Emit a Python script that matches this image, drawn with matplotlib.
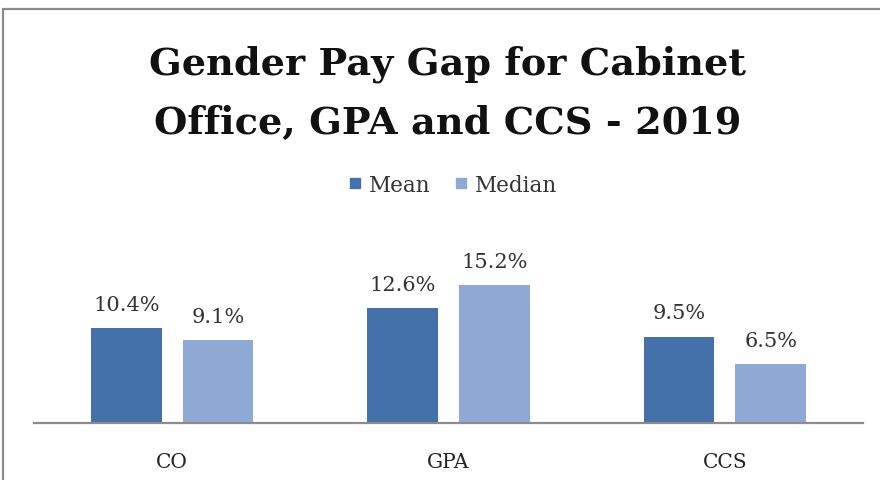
import matplotlib.pyplot as plt
from matplotlib.lines import Line2D
from matplotlib.patches import Rectangle
import numpy as np

# data
categories = ["CO", "GPA", "CCS"]
mean_gap = [10.4, 12.6, 9.5]
median_gap = [9.1, 15.2, 6.5]
series_names = ["Mean", "Median"]

dark_blue = "#4471AA"
light_blue = "#8FA9D5"
serif = ["DejaVu Serif", "Liberation Serif"]

fig = plt.figure(figsize=(8.8, 4.81), dpi=100)

# chart area outline (right and bottom run off the picture)
fig.patches.append(Rectangle((3 / 880, -0.1), 1.2, 1 - 10 / 481 + 0.1, transform=fig.transFigure,
                             fill=False, edgecolor="#8c8c8c", linewidth=1.6))

ax = fig.add_axes([34 / 880, 57 / 481, 829 / 880, 182 / 481])

x = np.arange(len(categories))
w = 0.256
off = 0.166
bars1 = ax.bar(x - off, mean_gap, w, color=dark_blue)
bars2 = ax.bar(x + off, median_gap, w, color=light_blue)

for bars in (bars1, bars2):
    for b in bars:
        h = b.get_height()
        ax.annotate(f"{h:.1f}%", (b.get_x() + b.get_width() / 2, h), xytext=(0, 13),
                    textcoords="offset points", ha="center", va="baseline",
                    fontsize=15, family=serif, color="#333333")

ax.set_xlim(-0.5, 2.5)
ax.set_ylim(0, 20)
ax.set_xticks(x)
ax.set_xticklabels(categories, family=serif, fontsize=14.5, color="#222222")
ax.tick_params(axis="x", length=0, pad=21)
ax.set_yticks([])
for s in ["top", "right", "left"]:
    ax.spines[s].set_visible(False)
ax.spines["bottom"].set_color("#8c8c8c")
ax.spines["bottom"].set_linewidth(1.6)

fig.text(0.509, 1 - 94 / 481, "Gender Pay Gap for Cabinet\nOffice, GPA and CCS - 2019",
         ha="center", va="center", fontsize=27.5, fontweight="bold", family=serif,
         linespacing=1.75, color="#111111")

handles = [Line2D([], [], marker="s", linestyle="none", markersize=7, color=c)
           for c in (dark_blue, light_blue)]
fig.legend(handles, series_names, loc="center", bbox_to_anchor=(0.514, 1 - 186 / 481),
           ncol=2, frameon=False, prop={"family": serif, "size": 15.5},
           handlelength=0.7, handletextpad=0.3, columnspacing=1.05, labelcolor="#333333")

fig.savefig("out.png", dpi=100)
